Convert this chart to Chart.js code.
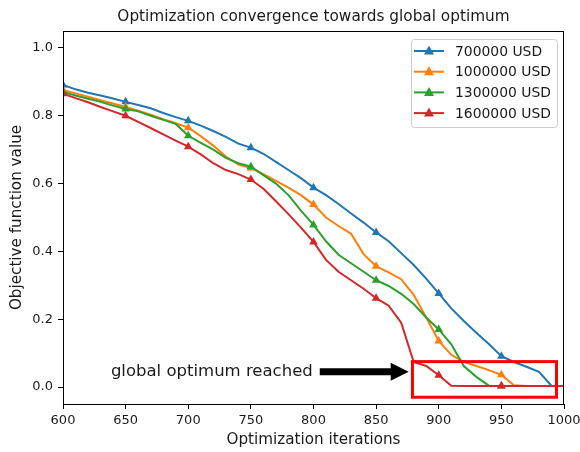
<!DOCTYPE html>
<html>
<head>
<meta charset="utf-8">
<script src="https://cdn.jsdelivr.net/npm/chart.js@4"></script>
<style>
  html, body { margin: 0; padding: 0; background: #fff; }
  #wrap { width: 580px; height: 452px; }
</style>
</head>
<body>
<div id="wrap"><canvas id="myChart"></canvas></div>
<script>
const iterations = [600, 610, 620, 630, 640, 650, 660, 670, 680, 690, 700, 710, 720, 730, 740, 750, 760, 770, 780, 790, 800,
    810, 820, 830, 840, 850, 860, 870, 880, 890, 900, 910, 920, 930, 940, 950, 960, 970, 980, 990, 1000];
const cost700k = [0.891, 0.878, 0.868, 0.860, 0.851, 0.841, 0.832, 0.822, 0.808, 0.796, 0.785, 0.771, 0.755, 0.738, 0.718,
    0.706, 0.688, 0.664, 0.640, 0.616, 0.588, 0.566, 0.540, 0.512, 0.485, 0.456, 0.430, 0.395, 0.360, 0.320, 0.276,
    0.232, 0.195, 0.160, 0.127, 0.091, 0.074, 0.060, 0.045, 0.004, 0.003];
const cost1000k = [0.876, 0.866, 0.856, 0.846, 0.836, 0.826, 0.815, 0.803, 0.790, 0.778, 0.765, 0.740, 0.712, 0.680, 0.656,
    0.646, 0.628, 0.608, 0.588, 0.566, 0.538, 0.500, 0.475, 0.452, 0.392, 0.356, 0.338, 0.318, 0.272, 0.205, 0.136,
    0.095, 0.074, 0.062, 0.050, 0.036, 0.005, 0.003, 0.003, 0.003, 0.003];
const cost1300k = [0.870, 0.860, 0.850, 0.841, 0.830, 0.820, 0.813, 0.800, 0.788, 0.776, 0.741, 0.720, 0.700, 0.676, 0.660,
    0.650, 0.625, 0.600, 0.566, 0.520, 0.478, 0.430, 0.390, 0.365, 0.340, 0.315, 0.298, 0.275, 0.245, 0.205, 0.170,
    0.126, 0.062, 0.030, 0.004, 0.003, 0.003, 0.003, 0.003, 0.003, 0.003];
const cost1600k = [0.865, 0.852, 0.840, 0.826, 0.813, 0.800, 0.782, 0.764, 0.745, 0.727, 0.709, 0.686, 0.660, 0.640, 0.628,
    0.612, 0.585, 0.548, 0.510, 0.470, 0.428, 0.375, 0.340, 0.315, 0.290, 0.262, 0.240, 0.190, 0.074, 0.062, 0.035,
    0.004, 0.003, 0.003, 0.003, 0.003, 0.003, 0.003, 0.003, 0.003, 0.003];
const budgets = ["700000 USD", "1000000 USD", "1300000 USD", "1600000 USD"];
const colors = ["#1f77b4", "#ff7f0e", "#2ca02c", "#d62728"];
const xTicks = [600, 650, 700, 750, 800, 850, 900, 950, 1000];
const yTicks = [0.0, 0.2, 0.4, 0.6, 0.8, 1.0];

// annotation, in data units
const optBox = { x1: 879, x2: 994, y1: -0.03, y2: 0.075 };
const arrowFrom = { x: 805, y: 0.045 };
const arrowTo = { x: 876, y: 0.045 };
const noteText = "global optimum reached";

const FONT = "'DejaVu Sans', sans-serif";
const txtColor = "#1a1a1a";

const allSeries = [cost700k, cost1000k, cost1300k, cost1600k];

const datasets = allSeries.map((vals, i) => ({
    label: budgets[i],
    data: vals.map((v, j) => ({ x: iterations[j], y: v })),
    borderColor: colors[i],
    backgroundColor: colors[i],
    borderWidth: 2,
    pointStyle: "triangle",
    pointRadius: (c) => {
        const it = iterations[c.dataIndex];
        return it % 50 === 0 && it < 1000 ? 5 : 0;
    },
    pointBorderWidth: 0,
    order: 4 - i,
    tension: 0,
}));

const decor = {
    id: "decor",
    afterDatasetsDraw(chart) {
        const c = chart.ctx;
        const a = chart.chartArea;
        const xs = chart.scales.x;
        const ys = chart.scales.y;
        c.save();

        // frame (top/right spines)
        c.strokeStyle = "#000";
        c.lineWidth = 1;
        c.strokeRect(a.left + 0.5, a.top + 0.5, a.right - a.left - 1, a.bottom - a.top);

        // title
        c.fillStyle = txtColor;
        c.font = "15.3px " + FONT;
        c.textAlign = "center";
        c.textBaseline = "middle";
        c.fillText("Optimization convergence towards global optimum", (a.left + a.right) / 2, 17);

        // red box
        c.strokeStyle = "#ff0000";
        c.lineWidth = 3;
        const bx1 = xs.getPixelForValue(optBox.x1), bx2 = xs.getPixelForValue(optBox.x2);
        const by1 = ys.getPixelForValue(optBox.y2), by2 = ys.getPixelForValue(optBox.y1);
        c.strokeRect(bx1, by1, bx2 - bx1, by2 - by1);

        // arrow
        const ax1 = xs.getPixelForValue(arrowFrom.x), ay = ys.getPixelForValue(arrowFrom.y);
        const ax2 = xs.getPixelForValue(arrowTo.x);
        c.fillStyle = "#000";
        c.beginPath();
        c.moveTo(ax1, ay - 3.5);
        c.lineTo(ax2 - 18, ay - 3.5);
        c.lineTo(ax2 - 18, ay - 9);
        c.lineTo(ax2, ay);
        c.lineTo(ax2 - 18, ay + 9);
        c.lineTo(ax2 - 18, ay + 3.5);
        c.lineTo(ax1, ay + 3.5);
        c.closePath();
        c.fill();

        // note text
        c.fillStyle = txtColor;
        c.font = "16.5px " + FONT;
        c.textAlign = "right";
        c.fillText(noteText, ax1 - 7, ay);

        // legend
        const lw = 146, lh = 88;
        const lx = a.right - 7 - lw, ly = a.top + 8;
        c.fillStyle = "rgba(255,255,255,0.8)";
        c.strokeStyle = "#cccccc";
        c.lineWidth = 1;
        c.beginPath();
        c.roundRect(lx + 0.5, ly + 0.5, lw, lh, 3);
        c.fill();
        c.stroke();
        c.font = "13.9px " + FONT;
        c.textAlign = "left";
        budgets.forEach((name, i) => {
            const yy = ly + 12 + i * 20.7;
            c.strokeStyle = colors[i];
            c.lineWidth = 2;
            c.beginPath();
            c.moveTo(lx + 3, yy);
            c.lineTo(lx + 33, yy);
            c.stroke();
            c.fillStyle = colors[i];
            c.beginPath();
            c.moveTo(lx + 18, yy - 5.5);
            c.lineTo(lx + 23, yy + 3.5);
            c.lineTo(lx + 13, yy + 3.5);
            c.closePath();
            c.fill();
            c.fillStyle = txtColor;
            c.fillText(name, lx + 44, yy + 1);
        });
        c.restore();
    },
};

new Chart(document.getElementById("myChart"), {
    type: "line",
    data: { datasets: datasets },
    options: {
        responsive: true,
        maintainAspectRatio: false,
        animation: false,
        layout: { padding: { top: 31, right: 16, left: 0, bottom: 0 } },
        plugins: {
            legend: { display: false },
            tooltip: { enabled: false },
            title: { display: false },
        },
        scales: {
            x: {
                type: "linear",
                min: 600,
                max: 1000,
                afterBuildTicks: (s) => { s.ticks = xTicks.map((v) => ({ value: v })); },
                afterFit: (s) => { s.height = 48; s.paddingLeft = 0; s.paddingRight = 0; },
                ticks: { color: txtColor, font: { family: FONT, size: 13 }, padding: 4, maxRotation: 0,
                    callback: (v) => String(v) },
                grid: { drawOnChartArea: false, drawTicks: true, tickLength: 5, color: "#000" },
                border: { display: true, color: "#000" },
                title: { display: true, text: "Optimization iterations", color: txtColor,
                    font: { family: FONT, size: 15.2 }, padding: { top: 0, bottom: 3 } },
            },
            y: {
                type: "linear",
                min: -0.05,
                max: 1.05,
                afterBuildTicks: (s) => { s.ticks = yTicks.map((v) => ({ value: v })); },
                afterFit: (s) => { s.width = 63; s.paddingTop = 0; s.paddingBottom = 0; },
                ticks: { color: txtColor, font: { family: FONT, size: 13 }, padding: 5,
                    callback: (v) => v.toFixed(1) },
                grid: { drawOnChartArea: false, drawTicks: true, tickLength: 5, color: "#000" },
                border: { display: true, color: "#000" },
                title: { display: true, text: "Objective function value", color: txtColor,
                    font: { family: FONT, size: 15.2 }, padding: { top: 8, bottom: 0 } },
            },
        },
    },
    plugins: [decor],
});
</script>
</body>
</html>
